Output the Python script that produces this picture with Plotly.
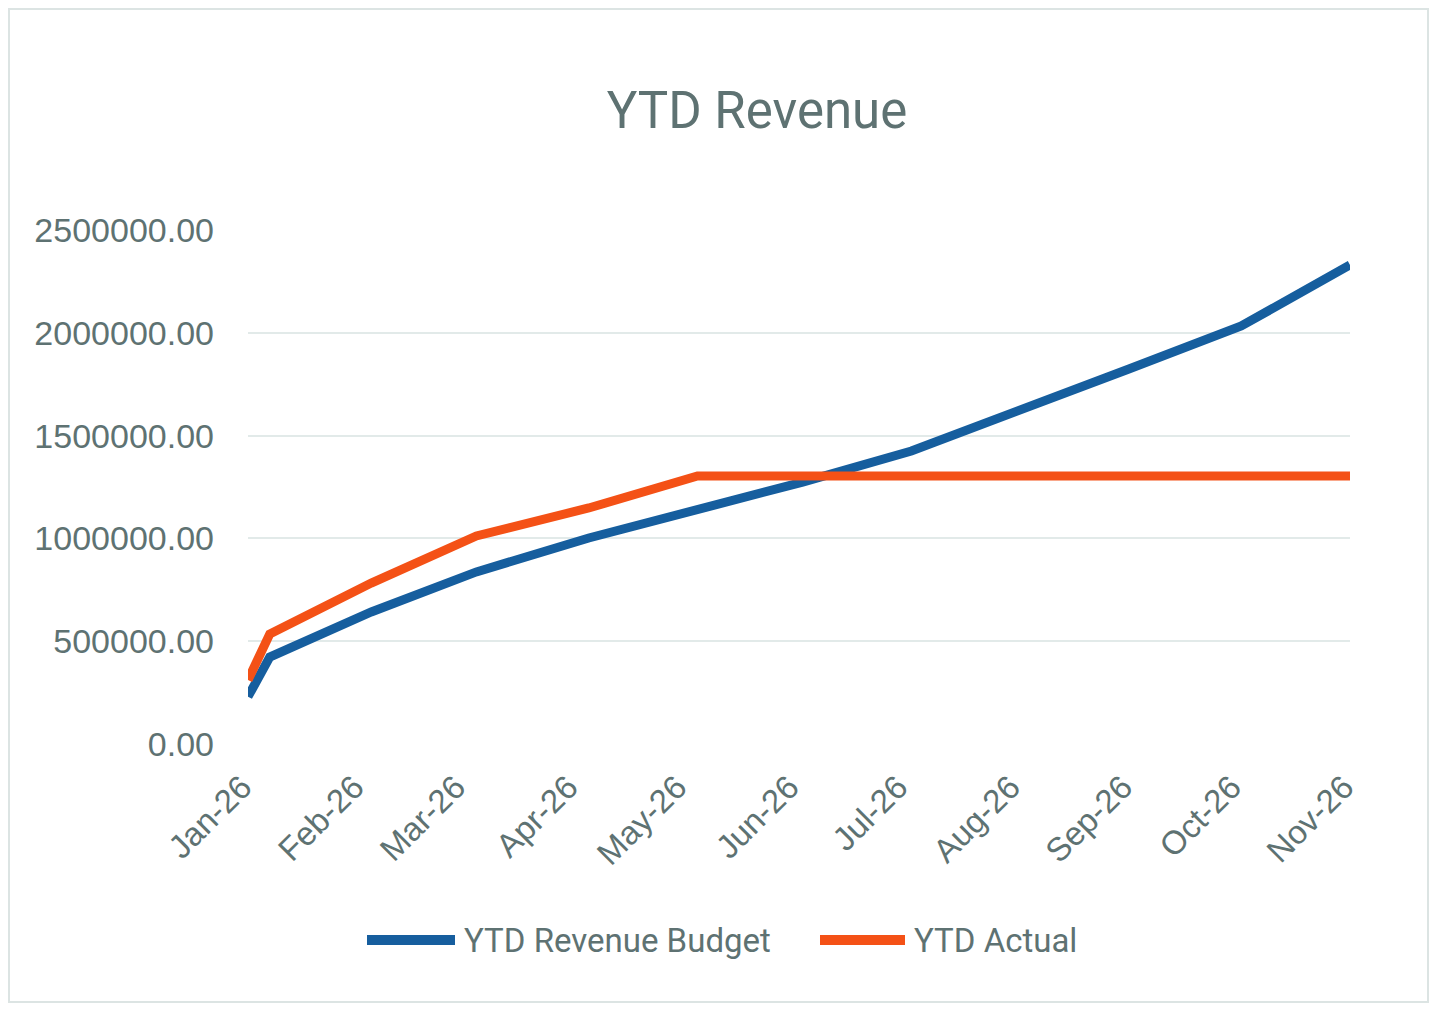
import plotly.graph_objects as go

dates = ["2026-01-01", "2026-01-07", "2026-02-04", "2026-03-05", "2026-04-05",
         "2026-05-05", "2026-06-03", "2026-07-03", "2026-08-02", "2026-09-01",
         "2026-10-02", "2026-11-01"]
budget = [230000, 423000, 642000, 837000, 1002000, 1138000, 1274000,
          1425000, 1620000, 1824000, 2033000, 2330000]
actual = [311000, 535000, 783000, 1012000, 1148000, 1304000, 1304000,
          1304000, 1304000, 1304000, 1304000, 1304000]
series_names = ["YTD Revenue Budget", "YTD Actual"]

TXT = "#5E7272"
BLUE = "#165E9E"
ORANGE = "#F45116"
GRID = "#E2EAE9"
colors = [BLUE, ORANGE]

fig = go.Figure()
fig.add_trace(go.Scatter(x=dates, y=budget, mode="lines", name=series_names[0],
                         line=dict(color=BLUE, width=9), showlegend=False))
fig.add_trace(go.Scatter(x=dates, y=actual, mode="lines", name=series_names[1],
                         line=dict(color=ORANGE, width=9), showlegend=False))

# screen -> paper helpers (plot area spans screen x 248..1350, y 230..744)
def px(sx):
    return (sx - 248) / 1102

def py(sy):
    return (744 - sy) / 514

shapes = [dict(type="rect", xref="paper", yref="paper",
               x0=px(9), x1=px(1428), y0=py(1002), y1=py(9),
               line=dict(color="#DCE4E3", width=2), layer="below")]
annotations = []
legend_items = [(367, 455, 462), (820, 905, 912)]
for (l0, l1, tx), name, col in zip(legend_items, series_names, colors):
    shapes.append(dict(type="line", xref="paper", yref="paper",
                       x0=px(l0), x1=px(l1), y0=py(940), y1=py(940),
                       line=dict(color=col, width=10)))
    annotations.append(dict(text=name, xref="paper", yref="paper",
                            x=px(tx), y=py(940), xanchor="left", yanchor="middle",
                            showarrow=False,
                            font=dict(family="Roboto", size=33, color=TXT)))

fig.update_layout(
    width=1439, height=1016,
    paper_bgcolor="white", plot_bgcolor="white",
    margin=dict(l=240, r=97, t=222, b=280, autoexpand=False),
    title=dict(text="YTD Revenue", x=(757 - 8) / 1439, xanchor="center", xref="container",
               y=1 - (110 - 8) / 1016, yanchor="middle", yref="container",
               font=dict(family="Roboto", size=51, color=TXT)),
    showlegend=False,
    xaxis=dict(type="date", range=["2026-01-01", "2026-11-01"],
               tick0="2026-01-01", dtick="M1", tickformat="%b-%y",
               tickangle=-45, showgrid=False, zeroline=False, showline=False,
               ticks="", ticklabelstandoff=16, ticklabelshift=-6,
               tickfont=dict(family="Liberation Sans", size=33, color=TXT)),
    yaxis=dict(range=[0, 2500000], dtick=500000, tickformat=".2f",
               showgrid=True, gridcolor=GRID, gridwidth=2, zeroline=False,
               showline=False, ticks="", ticklabelstandoff=33,
               tickfont=dict(family="Liberation Sans", size=34, color=TXT)),
    shapes=shapes,
    annotations=annotations,
)

fig.write_html("out.html")
